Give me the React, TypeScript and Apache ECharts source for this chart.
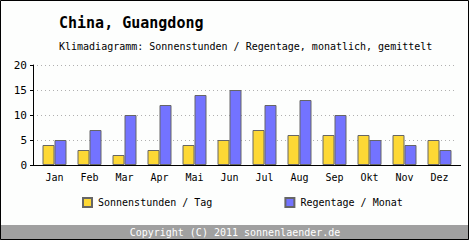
import React, { useEffect, useRef } from "react";
import * as echarts from "echarts";

const months = ["Jan", "Feb", "Mar", "Apr", "Mai", "Jun", "Jul", "Aug", "Sep", "Okt", "Nov", "Dez"];
const sunHours = [4, 3, 2, 3, 4, 5, 7, 6, 6, 6, 6, 5];
const rainDays = [5, 7, 10, 12, 14, 15, 12, 13, 10, 5, 4, 3];
const yTicks = { min: 0, max: 20, interval: 5 };

const FONT = "DejaVu Sans Mono";

export default function App() {
  const ref = useRef<HTMLDivElement>(null);
  useEffect(() => {
    if (!ref.current) return;
    const chart = echarts.init(ref.current, null, { renderer: "svg" });
    chart.setOption({
      animation: false,
      backgroundColor: "#fdfefd",
      textStyle: { fontFamily: FONT },
      title: [
        {
          text: "China, Guangdong",
          left: 59,
          top: 15,
          padding: 0,
          textStyle: { fontFamily: FONT, fontSize: 15, fontWeight: "bold", color: "#000" },
        },
        {
          text: "Klimadiagramm: Sonnenstunden / Regentage, monatlich, gemittelt",
          left: 59,
          top: 41,
          padding: 0,
          textStyle: { fontFamily: FONT, fontSize: 10, fontWeight: "normal", color: "#000" },
        },
      ],
      grid: { left: 37, right: 13, top: 65, bottom: 75, containLabel: false },
      legend: {
        left: 82,
        top: 197,
        padding: 0,
        itemWidth: 9,
        itemHeight: 9,
        itemGap: 72,
        icon: "rect",
        textStyle: { fontFamily: FONT, fontSize: 10, color: "#000", padding: [0, 0, 0, 1] },
        data: ["Sonnenstunden / Tag", "Regentage / Monat"],
      },
      xAxis: {
        type: "category",
        data: months,
        axisLine: { show: false },
        axisTick: { show: false },
        axisLabel: { fontFamily: FONT, fontSize: 10, color: "#000", margin: 7 },
      },
      yAxis: {
        type: "value",
        min: yTicks.min,
        max: yTicks.max,
        interval: yTicks.interval,
        offset: 4,
        axisLine: { show: true, lineStyle: { color: "#000", width: 1 } },
        axisTick: { show: true, length: 3, lineStyle: { color: "#000" } },
        axisLabel: { fontFamily: FONT, fontSize: 11, color: "#000", margin: 6 },
        splitLine: { show: true, lineStyle: { color: "#b0b0b0", type: [1, 3], width: 1 } },
      },
      series: [
        {
          name: "Sonnenstunden / Tag",
          type: "bar",
          data: sunHours,
          barWidth: 12,
          barGap: "0%",
          itemStyle: { color: "#fdd835", borderColor: "#666", borderWidth: 1 },
        },
        {
          name: "Regentage / Monat",
          type: "bar",
          data: rainDays,
          barWidth: 12,
          barGap: "0%",
          itemStyle: { color: "#7373ff", borderColor: "#666", borderWidth: 1 },
        },
      ],
      graphic: [
        {
          type: "line",
          shape: { x1: 33, y1: 165.5, x2: 461, y2: 165.5 },
          style: { stroke: "#000", lineWidth: 1 },
          z: 10,
        },
        {
          type: "rect",
          shape: { x: 0, y: 225, width: 469, height: 15 },
          style: { fill: "#a0a0a0" },
        },
        {
          type: "text",
          x: 235,
          y: 232,
          style: {
            text: "Copyright (C) 2011 sonnenlaender.de",
            fill: "#fff",
            font: `10px "${FONT}"`,
            align: "center",
            verticalAlign: "middle",
          },
        },
        {
          type: "rect",
          shape: { x: 0.5, y: 0.5, width: 468, height: 239 },
          style: { fill: "none", stroke: "#000", lineWidth: 1 },
          z: 20,
        },
      ],
    });
    return () => chart.dispose();
  }, []);
  return (
    <div
      ref={ref}
      style={{ position: "fixed", left: 0, top: 0, width: 470, height: 240 }}
    />
  );
}
